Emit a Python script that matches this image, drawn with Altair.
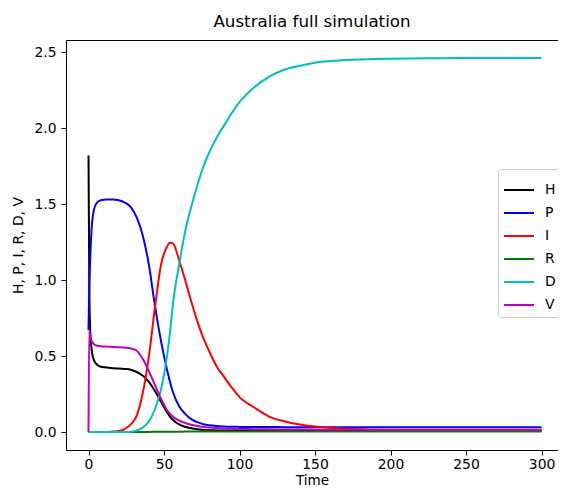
import altair as alt
import pandas as pd

time = [0, 0.5, 1, 2, 3, 5, 8, 12, 16, 20, 24, 28, 32, 36, 40, 44, 48, 52, 54, 56, 60,
        64, 68, 72, 76, 80, 85, 90, 95, 100, 110, 120, 130, 140, 150, 160, 175, 200,
        225, 250, 275, 300]

H = [1.82, 1.0, 0.70, 0.55, 0.49, 0.45, 0.43, 0.425, 0.42, 0.418, 0.415, 0.41, 0.395, 0.37,
     0.33, 0.27, 0.20, 0.13, 0.10, 0.08, 0.05, 0.035, 0.025, 0.018, 0.014, 0.012, 0.011,
     0.010, 0.010, 0.009, 0.009, 0.008, 0.008, 0.008, 0.008, 0.008, 0.008, 0.008, 0.008,
     0.008, 0.008, 0.008]
P = [0.67, 0.95, 1.10, 1.33, 1.43, 1.50, 1.525, 1.53, 1.53, 1.525, 1.51, 1.48, 1.41, 1.29,
     1.10, 0.83, 0.60, 0.41, 0.33, 0.26, 0.17, 0.12, 0.085, 0.065, 0.052, 0.045, 0.040,
     0.037, 0.035, 0.034, 0.033, 0.033, 0.032, 0.032, 0.032, 0.032, 0.032, 0.032, 0.032,
     0.032, 0.032, 0.032]
I = [0, 0, 0, 0, 0, 0, 0, 0.001, 0.003, 0.007, 0.02, 0.05, 0.11, 0.26, 0.50, 0.82, 1.10,
     1.22, 1.245, 1.24, 1.13, 1.00, 0.86, 0.73, 0.62, 0.53, 0.43, 0.36, 0.29, 0.23, 0.16,
     0.10, 0.07, 0.05, 0.036, 0.028, 0.02, 0.013, 0.011, 0.010, 0.009, 0.009]
R = [0, 0, 0, 0, 0, 0, 0, 0, 0, 0, 0, 0, 0.0005, 0.001, 0.001, 0.0015, 0.002, 0.002, 0.002,
     0.0025, 0.0025, 0.003, 0.003, 0.003, 0.003, 0.003, 0.003, 0.003, 0.003, 0.003, 0.003,
     0.003, 0.003, 0.003, 0.003, 0.003, 0.003, 0.003, 0.003, 0.003, 0.003, 0.003]
D = [0, 0, 0, 0, 0, 0, 0, 0, 0, 0, 0, 0.002, 0.01, 0.03, 0.07, 0.15, 0.28, 0.50, 0.66, 0.85,
     1.10, 1.32, 1.48, 1.62, 1.745, 1.84, 1.94, 2.02, 2.10, 2.17, 2.27, 2.34, 2.385, 2.41,
     2.43, 2.44, 2.449, 2.456, 2.459, 2.46, 2.46, 2.46]
V = [0, 0.67, 0.64, 0.60, 0.585, 0.57, 0.565, 0.562, 0.56, 0.558, 0.555, 0.55, 0.535, 0.48,
     0.40, 0.31, 0.22, 0.145, 0.12, 0.10, 0.075, 0.06, 0.048, 0.04, 0.034, 0.03, 0.026,
     0.023, 0.021, 0.02, 0.019, 0.018, 0.017, 0.017, 0.016, 0.016, 0.016, 0.016, 0.016,
     0.016, 0.016, 0.016]

series = ["H", "P", "I", "R", "D", "V"]
colors = ["#000000", "#0000ff", "#ff0000", "#008000", "#00bfbf", "#bf00bf"]
values = {"H": H, "P": P, "I": I, "R": R, "D": D, "V": V}

rows = []
for k, name in enumerate(series):
    for t, v in zip(time, values[name]):
        rows.append({"Time": t, "value": v, "series": name, "ord": k})
df = pd.DataFrame(rows)

font = "DejaVu Sans"
fs = 13.9

chart = alt.Chart(df).mark_line(strokeWidth=2, interpolate="monotone").encode(
    x=alt.X("Time:Q", scale=alt.Scale(domain=[-14.9, 310.9], nice=False, zero=False),
            axis=alt.Axis(values=[0, 50, 100, 150, 200, 250, 300], title="Time",
                          titlePadding=3, labelPadding=2, titleFontSize=13.5)),
    y=alt.Y("value:Q", scale=alt.Scale(domain=[-0.118, 2.579], nice=False, zero=False),
            axis=alt.Axis(values=[0, 0.5, 1.0, 1.5, 2.0, 2.5], format=".1f",
                          title="H, P, I, R, D, V", titlePadding=8, labelPadding=5)),
    color=alt.Color("series:N",
                    scale=alt.Scale(domain=series, range=colors),
                    legend=alt.Legend(title=None, orient="none", legendX=432, legendY=129,
                                      symbolType="stroke", symbolSize=900,
                                      symbolStrokeWidth=2, labelFontSize=fs,
                                      labelFont=font, labelColor="black",
                                      strokeColor="#cccccc",
                                      fillColor="white", padding=5, cornerRadius=3,
                                      rowPadding=0, labelOffset=10)),
    detail="series:N",
    order=alt.Order("ord:Q"),
).properties(
    width=492,
    height=410,
    title=alt.TitleParams("Australia full simulation", font=font, fontSize=16.7,
                          fontWeight="normal", color="black", offset=9),
    autosize=alt.AutoSizeParams(type="none"),
    padding={"left": 58, "top": 32, "right": 0, "bottom": 40},
).configure_view(
    stroke="black", strokeWidth=1
).configure_axis(
    grid=False, domainColor="black", tickColor="black", tickSize=5,
    labelFont=font, labelFontSize=fs, labelColor="black",
    titleFont=font, titleFontSize=fs, titleColor="black", titleFontWeight="normal",
)

chart.save("out.html", embed_options={"renderer": "svg", "actions": False})
